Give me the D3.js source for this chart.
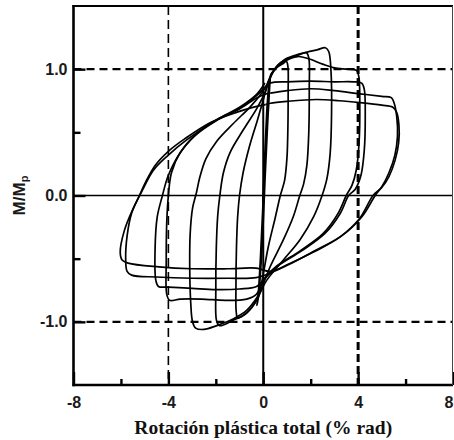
<!DOCTYPE html>
<html>
<head>
<meta charset="utf-8">
<script src="https://cdn.jsdelivr.net/npm/d3@7"></script>
<style>
  html, body { margin: 0; padding: 0; background: #fff; }
  svg { display: block; }
</style>
</head>
<body>
<svg id="chart" width="454" height="440"></svg>
<script>
// Axis domains and ticks
const xDomain = [-8, 8];
const yDomain = [-1.5, 1.5];
const xTickLabels = [-8, -4, 0, 4, 8];
const xMinorTicks = [-6, -2, 2, 6];
const yTickLabels = [-1.0, 0.0, 1.0];
const yMinorTicks = [-0.5, 0.5];
const refRotations = [-4, 4];   // dashed verticals
const refMoments = [-1, 1];     // dashed horizontals

// Hysteresis record, one array per cycle: [total plastic rotation (% rad), M/Mp]
const cycleElastic = [[-0.02,-0.05],[0.06,0.3],[0.14,0.62],[0.22,0.84],[0.3,0.94],[0.27,0.86],[0.18,0.55],[0.08,0.15],[-0.02,-0.3],[-0.12,-0.62],[-0.2,-0.8],[-0.27,-0.87],[-0.22,-0.8],[-0.12,-0.5],[-0.02,-0.1],[0.08,0.35],[0.16,0.7],[0.24,0.88],[0.32,0.96]];
const cycle1 = [[0.32,0.96],[0.55,1.01],[0.8,1.04],[0.98,1.06],[1.04,1.02],[1.05,0.82],[1.04,0.55],[1.0,0.3],[0.9,0.12],[0.72,0.0],[0.5,-0.18],[0.22,-0.4],[0.02,-0.6],[-0.14,-0.75],[-0.35,-0.85],[-0.65,-0.92],[-0.92,-0.96],[-1.08,-0.97],[-1.14,-0.92],[-1.15,-0.7],[-1.13,-0.42],[-1.08,-0.17],[-1.0,0.0],[-0.85,0.18],[-0.58,0.39],[-0.24,0.6],[0.02,0.77],[0.18,0.88],[0.32,0.95]];
const cycle2 = [[0.32,0.95],[0.6,1.03],[1.0,1.08],[1.45,1.11],[1.82,1.13],[1.92,1.09],[1.94,0.85],[1.92,0.5],[1.84,0.24],[1.7,0.09],[1.54,0.0],[1.28,-0.16],[0.85,-0.35],[0.3,-0.56],[0.0,-0.7],[-0.25,-0.82],[-0.7,-0.93],[-1.3,-0.99],[-1.85,-1.03],[-1.97,-0.99],[-2.0,-0.75],[-1.98,-0.42],[-1.92,-0.16],[-1.83,0.0],[-1.68,0.18],[-1.4,0.34],[-0.84,0.52],[-0.3,0.68],[0.04,0.8],[0.22,0.89]];
const cycle3 = [[0.22,0.89],[0.45,0.99],[0.85,1.07],[1.35,1.11],[1.85,1.135],[2.3,1.155],[2.62,1.17],[2.76,1.14],[2.86,0.97],[2.88,0.65],[2.82,0.33],[2.68,0.13],[2.48,0.0],[2.12,-0.17],[1.55,-0.35],[0.85,-0.51],[0.15,-0.67],[-0.2,-0.79],[-0.7,-0.91],[-1.3,-0.98],[-1.96,-1.03],[-2.5,-1.06],[-2.85,-1.05],[-2.98,-1.0],[-3.06,-0.84],[-3.1,-0.56],[-3.08,-0.3],[-2.98,-0.1],[-2.82,0.02],[-2.68,0.14],[-2.42,0.29],[-1.96,0.43],[-1.26,0.57],[-0.56,0.7],[-0.07,0.81],[0.14,0.87]];
const cycle4a = [[0.14,0.87],[0.42,0.98],[0.88,1.06],[1.45,1.1],[1.95,1.08],[2.5,1.04],[3.0,1.01],[3.55,1.0],[3.93,0.99],[4.03,0.94],[4.07,0.72],[4.04,0.42],[3.92,0.2],[3.74,0.08],[3.5,0.0],[3.16,-0.14],[2.53,-0.3],[1.54,-0.44],[0.56,-0.56],[0.0,-0.67],[-0.28,-0.78],[-0.7,-0.82],[-1.6,-0.83],[-2.6,-0.82],[-3.5,-0.82],[-3.95,-0.83],[-4.07,-0.78],[-4.09,-0.52],[-4.07,-0.22],[-4.0,0.0],[-3.87,0.18],[-3.5,0.34],[-2.8,0.49],[-1.96,0.6],[-1.0,0.69],[-0.28,0.79],[0.08,0.86]];
const cycle4b = [[0.08,0.86],[0.3,0.89],[1.0,0.9],[2.0,0.905],[3.0,0.9],[3.8,0.9],[4.15,0.89],[4.26,0.84],[4.3,0.62],[4.26,0.36],[4.12,0.16],[3.88,0.05],[3.6,0.0],[3.25,-0.14],[2.6,-0.3],[1.6,-0.44],[0.6,-0.56],[0.05,-0.66],[-0.28,-0.72],[-1.0,-0.74],[-2.0,-0.745],[-3.0,-0.735],[-4.0,-0.725],[-4.42,-0.72],[-4.53,-0.67],[-4.56,-0.42],[-4.47,-0.17],[-4.25,0.0],[-4.02,0.15],[-3.6,0.31],[-2.9,0.47],[-2.0,0.59],[-1.0,0.685],[-0.3,0.77],[0.05,0.8],[0.3,0.81]];
const cycle5a = [[0.3,0.81],[1.0,0.83],[2.0,0.845],[3.0,0.83],[4.07,0.805],[5.0,0.785],[5.4,0.775],[5.52,0.73],[5.63,0.62],[5.66,0.47],[5.55,0.32],[5.3,0.18],[5.0,0.07],[4.72,0.0],[4.15,-0.17],[3.3,-0.32],[2.15,-0.44],[1.15,-0.54],[0.35,-0.61],[-0.3,-0.65],[-1.5,-0.655],[-3.0,-0.655],[-4.5,-0.645],[-5.55,-0.63],[-5.74,-0.6],[-5.8,-0.5],[-5.74,-0.32],[-5.55,-0.14],[-5.22,0.0],[-4.95,0.11],[-4.55,0.24],[-4.0,0.35],[-3.3,0.45],[-2.2,0.58],[-1.1,0.66],[-0.4,0.7],[0.1,0.72]];
const cycle5b = [[0.1,0.72],[0.3,0.73],[1.0,0.745],[2.25,0.76],[3.2,0.75],[4.07,0.735],[5.0,0.715],[5.45,0.70],[5.62,0.66],[5.72,0.56],[5.71,0.42],[5.56,0.28],[5.3,0.15],[4.98,0.06],[4.63,0.0],[4.07,-0.18],[3.23,-0.33],[2.1,-0.45],[1.1,-0.54],[0.3,-0.6],[-0.3,-0.575],[-1.5,-0.58],[-3.0,-0.58],[-4.4,-0.565],[-5.7,-0.535],[-5.95,-0.51],[-6.03,-0.45],[-5.86,-0.28],[-5.5,-0.11],[-5.1,0.04],[-4.63,0.2],[-4.0,0.32],[-3.23,0.44],[-1.96,0.6],[-0.98,0.7],[-0.28,0.8],[0.07,0.89]];

const cycles = [cycleElastic, cycle1, cycle2, cycle3, cycle4a, cycle4b, cycle5a, cycle5b];

const svg = d3.select("#chart");
const plotLeft = 73.5, plotRight = 453, plotTop = 6, plotBottom = 385;

const x = d3.scaleLinear().domain(xDomain).range([plotLeft, plotRight]);
const y = d3.scaleLinear().domain(yDomain).range([plotBottom, plotTop]);

const sansBold = "'Liberation Sans', Arial, sans-serif";

// dashed reference lines
svg.append("g").selectAll("line").data(refMoments).join("line")
  .attr("x1", plotLeft).attr("x2", plotRight)
  .attr("y1", d => y(d)).attr("y2", d => y(d))
  .attr("stroke", "#000").attr("stroke-width", 2.2)
  .attr("stroke-dasharray", "8,5");

svg.append("g").selectAll("line").data(refRotations).join("line")
  .attr("x1", d => x(d)).attr("x2", d => x(d))
  .attr("y1", plotTop).attr("y2", plotBottom)
  .attr("stroke", "#000")
  .attr("stroke-width", d => d > 0 ? 3 : 1.6)
  .attr("stroke-dasharray", d => d > 0 ? "8,4" : "9,5");

// zero lines
svg.append("line")
  .attr("x1", plotLeft).attr("x2", plotRight).attr("y1", y(0)).attr("y2", y(0))
  .attr("stroke", "#000").attr("stroke-width", 1.5);
svg.append("line")
  .attr("x1", x(0)).attr("x2", x(0)).attr("y1", plotTop).attr("y2", plotBottom)
  .attr("stroke", "#000").attr("stroke-width", 2);

// hysteresis loops
const line = d3.line()
  .x(d => x(d[0])).y(d => y(d[1]))
  .curve(d3.curveCatmullRom.alpha(0.5));

svg.append("g").selectAll("path").data(cycles).join("path")
  .attr("d", line)
  .attr("fill", "none")
  .attr("stroke", "#000")
  .attr("stroke-width", 1.7)
  .attr("stroke-linejoin", "round");

// bottom axis: labels + inward ticks
const xAxis = svg.append("g").attr("transform", `translate(0,${plotBottom})`)
  .call(d3.axisBottom(x).tickValues(xTickLabels).tickSizeInner(-13).tickSizeOuter(0)
    .tickPadding(12).tickFormat(d => String(d)));
const xMinor = svg.append("g").attr("transform", `translate(0,${plotBottom})`)
  .call(d3.axisBottom(x).tickValues(xMinorTicks).tickSizeInner(-6).tickSizeOuter(0).tickFormat(""));

// left axis: labels + inward ticks
const yAxis = svg.append("g").attr("transform", `translate(${plotLeft},0)`)
  .call(d3.axisLeft(y).tickValues(yTickLabels).tickSizeInner(-12).tickSizeOuter(0)
    .tickPadding(6).tickFormat(d => d.toFixed(1)));
const yMinor = svg.append("g").attr("transform", `translate(${plotLeft},0)`)
  .call(d3.axisLeft(y).tickValues(yMinorTicks).tickSizeInner(-7).tickSizeOuter(0).tickFormat(""));

[xAxis, xMinor, yAxis, yMinor].forEach(g => {
  g.select(".domain").remove();
  g.selectAll(".tick line").attr("stroke", "#000").attr("stroke-width", 2.4);
  g.selectAll(".tick text")
    .attr("font-family", sansBold).attr("font-weight", "bold")
    .attr("font-size", 16).attr("fill", "#1a1a1a");
});
// last label sits flush against the right edge
xAxis.selectAll(".tick text").filter(d => d === xDomain[1]).attr("text-anchor", "end");

// frame
svg.append("line").attr("x1", plotLeft - 1).attr("x2", plotRight).attr("y1", plotTop).attr("y2", plotTop)
  .attr("stroke", "#000").attr("stroke-width", 2);
svg.append("line").attr("x1", plotLeft).attr("x2", plotLeft).attr("y1", plotTop - 1).attr("y2", plotBottom + 1.2)
  .attr("stroke", "#000").attr("stroke-width", 2.6);
svg.append("line").attr("x1", plotLeft - 1).attr("x2", plotRight).attr("y1", plotBottom).attr("y2", plotBottom)
  .attr("stroke", "#000").attr("stroke-width", 2.6);
svg.append("line").attr("x1", plotRight - 0.5).attr("x2", plotRight - 0.5).attr("y1", plotTop).attr("y2", plotBottom)
  .attr("stroke", "#444").attr("stroke-width", 1);

// axis titles
svg.append("text")
  .attr("x", x(0)).attr("y", 434)
  .attr("text-anchor", "middle")
  .attr("font-family", "'Liberation Serif', 'Times New Roman', serif")
  .attr("font-weight", "bold").attr("font-size", 19.5).attr("fill", "#111")
  .text("Rotación plástica total (% rad)");

const yTitle = svg.append("text")
  .attr("transform", `translate(25,${y(0)}) rotate(-90)`)
  .attr("text-anchor", "middle")
  .attr("font-family", sansBold).attr("font-weight", "bold")
  .attr("font-size", 17).attr("fill", "#1a1a1a");
yTitle.append("tspan").text("M/M");
yTitle.append("tspan").attr("font-size", 11).attr("dy", 3).text("p");
</script>
</body>
</html>
